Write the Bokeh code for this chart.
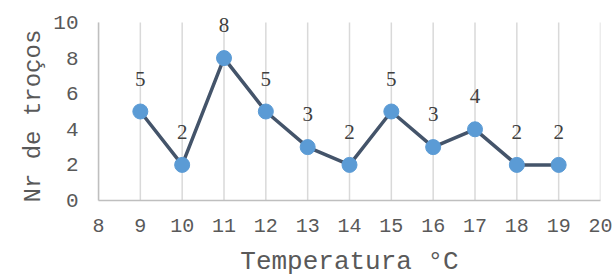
from bokeh.plotting import figure
from bokeh.models import Range1d, FixedTicker, ColumnDataSource, LabelSet, Title
from bokeh.embed import file_html
from bokeh.resources import INLINE

temperatura = [9, 10, 11, 12, 13, 14, 15, 16, 17, 18, 19]
n_trocos = [5, 2, 8, 5, 3, 2, 5, 3, 4, 2, 2]
x_ticks = list(range(8, 21))
y_ticks = [0, 2, 4, 6, 8, 10]

FONT = "Liberation Mono"

src = ColumnDataSource(dict(x=temperatura, y=n_trocos, lbl=[str(v) for v in n_trocos]))
grid_src = ColumnDataSource(dict(x=x_ticks,
                                 y0=[y_ticks[0]] * len(x_ticks),
                                 y1=[y_ticks[-1]] * len(x_ticks)))

# y range extends above 10 so data labels above the top point are not clipped
p = figure(frame_width=502, frame_height=199, output_backend="svg", toolbar_location=None,
           x_range=Range1d(8, 20), y_range=Range1d(0, 11.18),
           min_border_left=98, min_border_right=14, min_border_top=1, min_border_bottom=75)
p.outline_line_color = None
p.background_fill_color = "white"
p.border_fill_color = "white"
p.xgrid.grid_line_color = None
p.ygrid.grid_line_color = None

p.segment(x0="x", y0="y0", x1="x", y1="y1", source=grid_src,
          line_color="#d9d9d9", line_width=1.5)

p.xaxis.ticker = FixedTicker(ticks=x_ticks)
p.yaxis.ticker = FixedTicker(ticks=y_ticks)
p.yaxis.bounds = (y_ticks[0], y_ticks[-1])
for ax in (p.xaxis[0], p.yaxis[0]):
    ax.axis_line_color = "#bfbfbf"
    ax.axis_line_width = 1.5
    ax.major_tick_line_color = None
    ax.minor_tick_line_color = None
    ax.major_tick_out = 0
    ax.major_tick_in = 0
    ax.major_label_text_font = FONT
    ax.major_label_text_font_size = "21px"
    ax.major_label_text_color = "#595959"
    ax.axis_label_text_font = FONT
    ax.axis_label_text_font_style = "normal"
    ax.axis_label_text_color = "#595959"

p.xaxis.major_label_text_font_size = "20px"
p.xaxis.axis_label = "Temperatura °C"
p.xaxis.axis_label_text_font_size = "26px"
p.xaxis.major_label_standoff = 18
p.xaxis.axis_label_standoff = 12
p.yaxis.major_label_standoff = 20

ytitle = Title(text="Nr de troços", align="left", offset=-2, standoff=7,
               text_font=FONT, text_font_size="24px", text_font_style="normal",
               text_color="#595959")
p.add_layout(ytitle, "left")

p.line("x", "y", source=src, line_color="#44546A", line_width=3.5)
p.scatter("x", "y", source=src, size=15, fill_color="#5B9BD5", line_color="#5B9BD5")

labels = LabelSet(x="x", y="y", text="lbl", source=src, y_offset=33,
                  text_align="center", text_baseline="middle",
                  text_font=FONT, text_font_size="21px", text_color="#404040")
p.add_layout(labels)

open("out.html", "w").write(file_html(p, INLINE))
